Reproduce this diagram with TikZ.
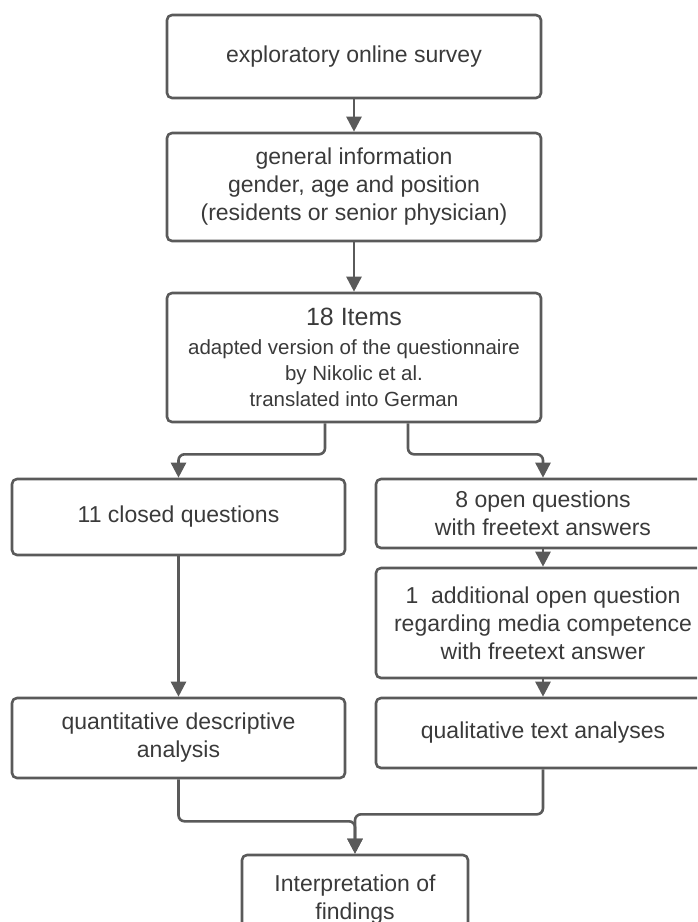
\documentclass[tikz,border=0pt]{standalone}
\usepackage{fontspec}
\setmainfont{Liberation Sans}
\usetikzlibrary{arrows.meta}
\definecolor{boxgray}{HTML}{5A5A5A}
\definecolor{txtgray}{HTML}{3A3A3A}

\begin{document}
\begin{tikzpicture}[x=1pt,y=-1pt,line join=round,
        box/.style={draw=boxgray,line width=2.6pt,rounded corners=5pt,align=center,text=txtgray,inner sep=0pt,font=\fontsize{23}{28}\selectfont},
        arr/.style={draw=boxgray,line width=2.6pt,rounded corners=6pt,-{Triangle[width=15pt,length=15pt]}}]
        \useasboundingbox (0,0) rectangle (697,922);
        \clip (0,0) rectangle (697,922);
        \node[box,minimum width=374pt,minimum height=83pt] (survey) at (354,56.5) {exploratory online survey};
        \node[box,minimum width=374pt,minimum height=108pt] (general) at (354,187) {general information\\gender, age and position\\(residents or senior physician)};
        \node[box,minimum width=374pt,minimum height=129pt,font=\fontsize{20.5}{26}\selectfont] (items) at (354,357.5) {{\fontsize{25}{30}\selectfont 18 Items}\\[3pt]adapted version of the questionnaire\\by Nikolic et al.\\translated into German};
        \node[box,minimum width=333pt,minimum height=76pt] (closed) at (178.5,517) {11 closed questions};
        \node[box,minimum width=334pt,minimum height=69pt] (freeopen) at (543,513.5) {8 open questions\\with freetext answers};
        \node[box,minimum width=334pt,minimum height=110pt] (additional) at (543,623) {1\ \ additional open question\\regarding media competence\\with freetext answer};
        \node[box,minimum width=334pt,minimum height=70pt] (qualit) at (543,733) {qualitative text analyses};
        \node[box,minimum width=333pt,minimum height=80pt] (quant) at (178.5,738) {quantitative descriptive\\analysis};
        \node[box,minimum width=226pt,minimum height=90pt] (findings) at (355,900) {Interpretation of\\findings};
        \draw[arr] (survey) -- (general);
        \draw[arr] (general) -- (items);
        \draw[arr] ([xshift=-29pt]items.south) -- ++(0,31) -| (closed);
        \draw[arr] ([xshift=54pt]items.south) -- ++(0,31) -| (freeopen);
        \draw[arr] (freeopen) -- (additional);
        \draw[arr] (additional) -- (qualit);
        \draw[arr] (closed) -- (quant);
        \draw[arr] (qualit.south) -- ++(0,45) -| (findings);
        \draw[arr] (quant.south) -- ++(0,42) -| (findings);
    \end{tikzpicture}
\end{document}
